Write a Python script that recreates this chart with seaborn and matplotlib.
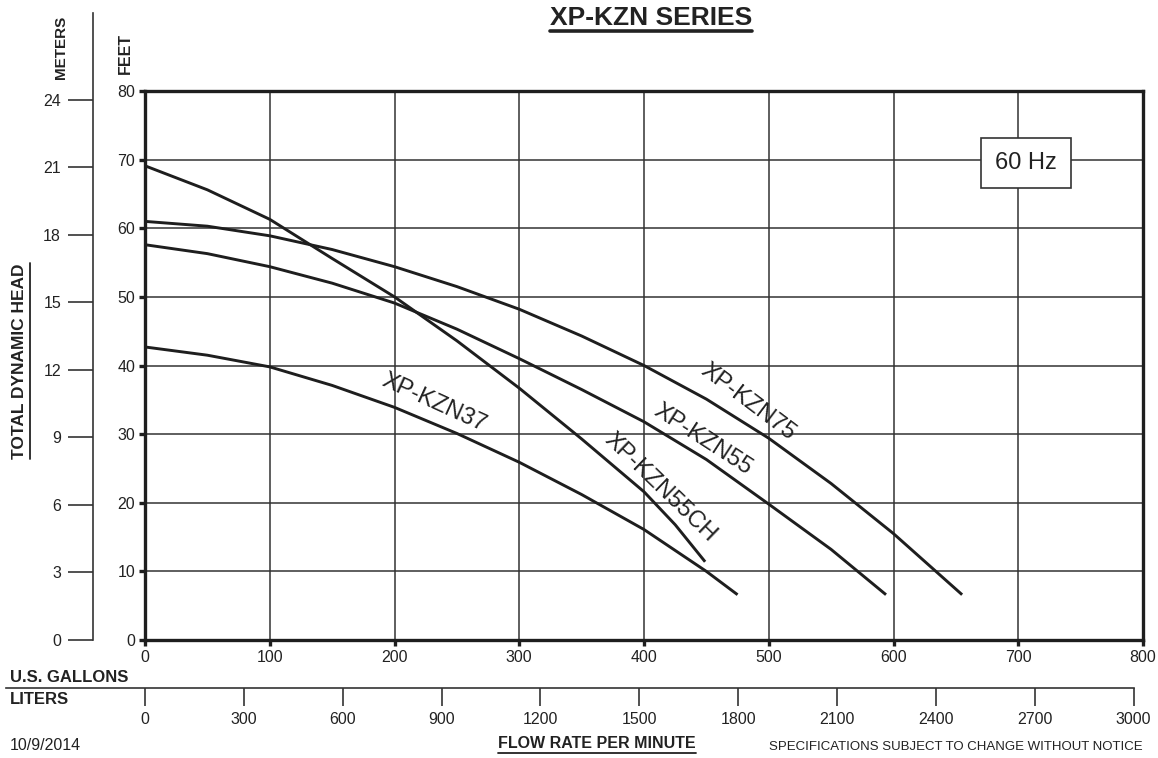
import matplotlib
matplotlib.use("Agg")
import matplotlib.pyplot as plt
import seaborn as sns
import pandas as pd
from matplotlib.lines import Line2D

# ---------------- data ----------------
gal_37 = [0, 50, 100, 150, 200, 250, 300, 350, 400, 450, 475]
ft_37 = [42.7, 41.5, 39.8, 37.1, 33.9, 30.1, 25.9, 21.2, 16.1, 10.0, 6.6]

gal_55ch = [0, 50, 100, 150, 200, 250, 300, 350, 400, 425, 449]
ft_55ch = [69.1, 65.6, 61.3, 55.6, 50.0, 43.6, 36.7, 29.3, 21.6, 16.8, 11.4]

gal_55 = [0, 50, 100, 150, 200, 250, 300, 350, 400, 450, 500, 550, 594]
ft_55 = [57.6, 56.3, 54.4, 52.0, 49.1, 45.3, 41.0, 36.5, 31.8, 26.3, 19.8, 13.2, 6.6]

gal_75 = [0, 50, 100, 150, 200, 250, 300, 350, 400, 450, 500, 550, 600, 655]
ft_75 = [61.0, 60.3, 58.9, 56.9, 54.4, 51.5, 48.2, 44.3, 40.0, 35.1, 29.4, 22.8, 15.5, 6.6]

models = ["XP-KZN37", "XP-KZN55CH", "XP-KZN55", "XP-KZN75"]
label_gal = [232, 413, 447, 483]
label_ft = [34.6, 22.2, 29.2, 34.6]
label_rot = [-24.5, -44, -33, -37]

gallon_ticks = [0, 100, 200, 300, 400, 500, 600, 700, 800]
feet_ticks = [0, 10, 20, 30, 40, 50, 60, 70, 80]
meter_ticks = [0, 3, 6, 9, 12, 15, 18, 21, 24]
liter_ticks = [0, 300, 600, 900, 1200, 1500, 1800, 2100, 2400, 2700, 3000]

title = "XP-KZN SERIES"
freq_label = "60 Hz"
date_text = "10/9/2014"
note_text = "SPECIFICATIONS SUBJECT TO CHANGE WITHOUT NOTICE"

L_PER_GAL = 3.78541
FT_PER_M = 3.28084

# ---------------- style ----------------
sns.set_style("white")
plt.rcParams["font.family"] = ["Liberation Sans", "DejaVu Sans"]
INK = "#1e1e1e"
GRID = "#333333"
TXT = "#222222"

W, H = 1158, 758
fig = plt.figure(figsize=(W / 100, H / 100), dpi=100)

def fx(px):
    return px / W

def fy(py):
    return 1 - py / H

X0, X1 = 145, 1143
Y0, Y1 = 640, 91

ax = fig.add_axes([fx(X0), fy(Y0), fx(X1 - X0), (Y0 - Y1) / H])

df = pd.concat([
    pd.DataFrame({"gal": gal_37, "ft": ft_37, "model": models[0]}),
    pd.DataFrame({"gal": gal_55ch, "ft": ft_55ch, "model": models[1]}),
    pd.DataFrame({"gal": gal_55, "ft": ft_55, "model": models[2]}),
    pd.DataFrame({"gal": gal_75, "ft": ft_75, "model": models[3]}),
])
sns.lineplot(data=df, x="gal", y="ft", units="model", estimator=None,
             color=INK, lw=2.1, ax=ax, sort=True, legend=False)
for ln in ax.lines:
    ln.set_solid_joinstyle("round")
    ln.set_solid_capstyle("butt")

ax.set_xlim(0, 800)
ax.set_ylim(0, 80)
ax.set_xticks(gallon_ticks)
ax.set_yticks(feet_ticks)
ax.grid(True, color=GRID, lw=1.1)
ax.set_axisbelow(True)
for s in ax.spines.values():
    s.set_visible(True)
    s.set_linewidth(2.4)
    s.set_color(INK)
ax.tick_params(axis="both", which="major", left=True, bottom=True, direction="out",
               length=4, width=2.4, color=INK, labelsize=11.5, labelcolor=TXT, pad=3)
ax.set_xlabel("")
ax.set_ylabel("")

for name, gx, fv, rot in zip(models, label_gal, label_ft, label_rot):
    ax.text(gx, fv, name, rotation=rot, rotation_mode="anchor",
            ha="center", va="center", fontsize=17, color=TXT)

ax.text(706, 69.5, freq_label, ha="center", va="center", fontsize=17, color=TXT,
        bbox=dict(boxstyle="square,pad=0.6", fc="white", ec="#333333", lw=1.2))

# ---------------- meters axis ----------------
MX = 93
MTOP = 13
axm = fig.add_axes([fx(MX), fy(Y0), 0.0005, (Y0 - MTOP) / H])
axm.set_ylim(0, 80 / FT_PER_M * (Y0 - MTOP) / (Y0 - Y1))
axm.set_yticks(meter_ticks)
axm.set_xticks([])
for k, s in axm.spines.items():
    s.set_visible(k == "left")
axm.spines["left"].set_linewidth(1.2)
axm.spines["left"].set_color("#333333")
axm.tick_params(axis="y", left=True, direction="out", length=18, width=1.2,
                color="#333333", labelsize=11.5, labelcolor=TXT, pad=5)
axm.patch.set_alpha(0)

# ---------------- liters axis ----------------
LY = 688
axl = fig.add_axes([0, fy(LY), fx(X1), 0.0005])
lmax = 800 * L_PER_GAL
lmin = -X0 / (X1 - X0) * lmax
axl.set_xlim(lmin, lmax)
axl.set_xticks(liter_ticks)
axl.set_yticks([])
for k, s in axl.spines.items():
    s.set_visible(k == "bottom")
axl.spines["bottom"].set_bounds(lmin * 0.96, 3000)
axl.spines["bottom"].set_linewidth(1.2)
axl.spines["bottom"].set_color("#333333")
axl.tick_params(axis="x", bottom=True, direction="out", length=13, width=1.2,
                color="#333333", labelsize=11.5, labelcolor=TXT, pad=4)
axl.patch.set_alpha(0)

# ---------------- texts ----------------
t_title = fig.text(fx(651), fy(25), title, ha="center", va="baseline", fontsize=19,
                   fontweight="bold", color=TXT)
fig.text(fx(61), fy(47), "METERS", rotation=90, ha="center", va="center",
         fontsize=11, fontweight="bold", color=TXT)
fig.text(fx(125), fy(53), "FEET", rotation=90, ha="center", va="center",
         fontsize=11.5, fontweight="bold", color=TXT)
t_tdh = fig.text(fx(20), fy(361), "TOTAL DYNAMIC HEAD", rotation=90, ha="center",
                 va="center", fontsize=12.5, fontweight="bold", color=TXT)
fig.text(fx(10), fy(677), "U.S. GALLONS", ha="left", va="center", fontsize=12,
         fontweight="bold", color=TXT)
fig.text(fx(10), fy(700), "LITERS", ha="left", va="center", fontsize=12,
         fontweight="bold", color=TXT)
fig.text(fx(10), fy(746), date_text, ha="left", va="center", fontsize=11.5, color=TXT)
t_flow = fig.text(fx(597), fy(744), "FLOW RATE PER MINUTE", ha="center", va="center",
                  fontsize=11.5, fontweight="bold", color=TXT)
fig.text(fx(1143), fy(747), note_text, ha="right", va="center", fontsize=9.5, color=TXT)

# underlines
fig.canvas.draw()
r = fig.canvas.get_renderer()
bb = t_title.get_window_extent(r)
yy = (H - 31)
fig.add_artist(Line2D([bb.x0 / W, bb.x1 / W], [yy / H, yy / H], lw=2.6,
                      color=TXT, transform=fig.transFigure))
bb = t_flow.get_window_extent(r)
yy = bb.y0 - 1
fig.add_artist(Line2D([bb.x0 / W, bb.x1 / W], [yy / H, yy / H], lw=1.3,
                      color=TXT, transform=fig.transFigure))
bb = t_tdh.get_window_extent(r)
xx = bb.x1 + 2
fig.add_artist(Line2D([xx / W, xx / W], [bb.y0 / H, bb.y1 / H], lw=1.3,
                      color=TXT, transform=fig.transFigure))

fig.savefig("out.png", dpi=100)
